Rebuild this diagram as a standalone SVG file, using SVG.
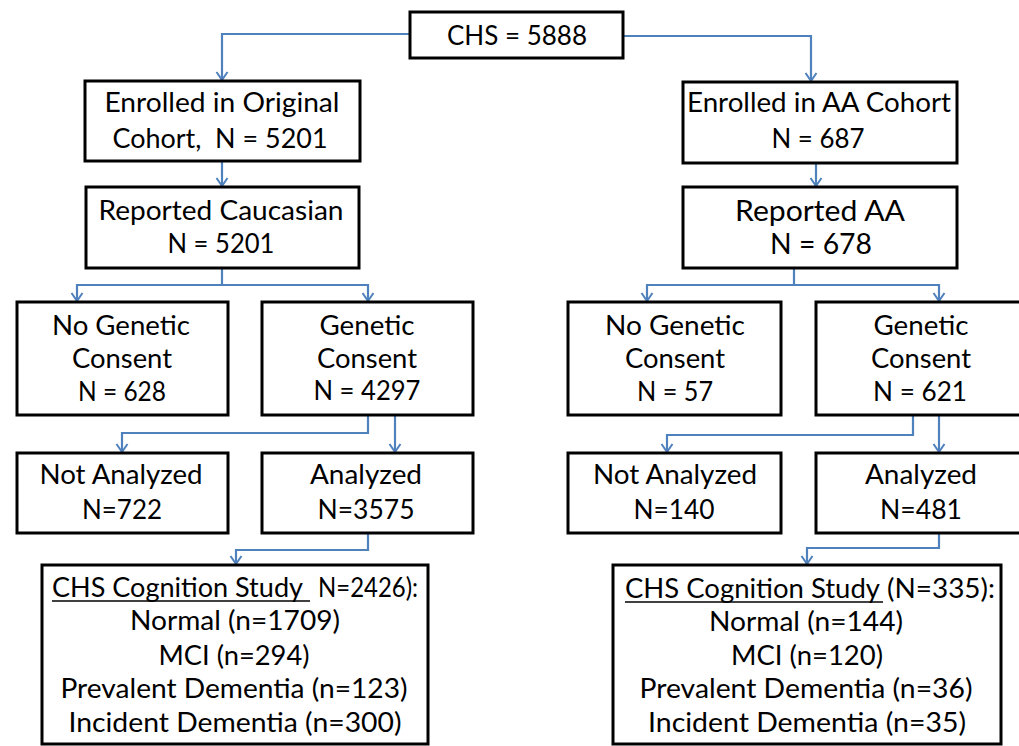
<svg xmlns="http://www.w3.org/2000/svg" width="1019" height="746" viewBox="0 0 1019 746">
<defs>
<style>
.box{fill:#fff;stroke:#000;stroke-width:3}
.t{font-family:Lato,"Liberation Sans",sans-serif;font-size:26px;fill:#000;text-anchor:middle;white-space:pre}
.s{text-anchor:start}
.big{font-size:28px}
.c{fill:none;stroke:#4f81bd;stroke-width:2.2;marker-end:url(#ah)}
.u{stroke:#000;stroke-width:1.5}
</style>
<marker id="ah" markerUnits="userSpaceOnUse" markerWidth="16" markerHeight="16" refX="0" refY="0" viewBox="-10 -8 12 16" orient="auto" overflow="visible">
<path d="M-8,-5.5 L0,0 L-8,5.5" fill="none" stroke="#4f81bd" stroke-width="2"/>
</marker>
</defs>
<rect width="1019" height="746" fill="#fff"/>
<g id="connectors">
<path class="c" d="M410,34 H222 V80"/>
<path class="c" d="M623,36 H811 V81"/>
<path class="c" d="M222,161 V186"/>
<path class="c" d="M816,163 V186"/>
<path class="c" d="M222,268 V285 H77 V301"/>
<path class="c" d="M222,285 H368 V301"/>
<path class="c" d="M794,268 V285 H647 V301"/>
<path class="c" d="M794,285 H939 V301"/>
<path class="c" d="M368,415 V433 H122 V452"/>
<path class="c" d="M395,415 V452"/>
<path class="c" d="M913,415 V435 H667 V452"/>
<path class="c" d="M939,415 V452"/>
<path class="c" d="M368,533 V550 H236 V564"/>
<path class="c" d="M939,533 V548 H807 V564"/>
</g>
<g id="chs">
<rect class="box" x="410" y="12" width="213" height="46"/>
<text class="t" x="517" y="45" textLength="140" lengthAdjust="spacingAndGlyphs">CHS = 5888</text>
</g>
<g id="enrolled-original">
<rect class="box" x="85" y="81" width="275" height="80"/>
<text class="t" x="222" y="112" textLength="235" lengthAdjust="spacingAndGlyphs">Enrolled in Original</text>
<text class="t" x="220" y="148" textLength="215" lengthAdjust="spacingAndGlyphs">Cohort,  N = 5201</text>
</g>
<g id="enrolled-aa">
<rect class="box" x="683" y="82" width="274" height="81"/>
<text class="t" x="819" y="112" textLength="264" lengthAdjust="spacingAndGlyphs">Enrolled in AA Cohort</text>
<text class="t" x="818" y="148" textLength="93" lengthAdjust="spacingAndGlyphs">N = 687</text>
</g>
<g id="reported-caucasian">
<rect class="box" x="86" y="187" width="273" height="81"/>
<text class="t" x="221" y="220" textLength="245" lengthAdjust="spacingAndGlyphs">Reported Caucasian</text>
<text class="t" x="221" y="253" textLength="107" lengthAdjust="spacingAndGlyphs">N = 5201</text>
</g>
<g id="reported-aa">
<rect class="box" x="683" y="187" width="274" height="81"/>
<text class="t big" x="820" y="221" textLength="170" lengthAdjust="spacingAndGlyphs">Reported AA</text>
<text class="t big" x="821" y="254" textLength="102" lengthAdjust="spacingAndGlyphs">N = 678</text>
</g>
<g id="no-consent-left">
<rect class="box" x="17" y="302" width="211" height="113"/>
<text class="t" x="121" y="335" textLength="138" lengthAdjust="spacingAndGlyphs">No Genetic</text>
<text class="t" x="122" y="368" textLength="100" lengthAdjust="spacingAndGlyphs">Consent</text>
<text class="t" x="122" y="401" textLength="88" lengthAdjust="spacingAndGlyphs">N = 628</text>
</g>
<g id="consent-left">
<rect class="box" x="262" y="302" width="211" height="113"/>
<text class="t" x="367" y="335" textLength="95" lengthAdjust="spacingAndGlyphs">Genetic</text>
<text class="t" x="367" y="368" textLength="100" lengthAdjust="spacingAndGlyphs">Consent</text>
<text class="t" x="367" y="400" textLength="107" lengthAdjust="spacingAndGlyphs">N = 4297</text>
</g>
<g id="no-consent-right">
<rect class="box" x="568" y="302" width="213" height="113"/>
<text class="t" x="675" y="335" textLength="140" lengthAdjust="spacingAndGlyphs">No Genetic</text>
<text class="t" x="675" y="368" textLength="100" lengthAdjust="spacingAndGlyphs">Consent</text>
<text class="t" x="675" y="401" textLength="76" lengthAdjust="spacingAndGlyphs">N = 57</text>
</g>
<g id="consent-right">
<rect class="box" x="816" y="302" width="213" height="113"/>
<text class="t" x="921" y="335" textLength="95" lengthAdjust="spacingAndGlyphs">Genetic</text>
<text class="t" x="921" y="368" textLength="100" lengthAdjust="spacingAndGlyphs">Consent</text>
<text class="t" x="920" y="401" textLength="94" lengthAdjust="spacingAndGlyphs">N = 621</text>
</g>
<g id="not-analyzed-left">
<rect class="box" x="17" y="453" width="211" height="80"/>
<text class="t" x="121" y="484" textLength="163" lengthAdjust="spacingAndGlyphs">Not Analyzed</text>
<text class="t" x="122" y="519" textLength="80" lengthAdjust="spacingAndGlyphs">N=722</text>
</g>
<g id="analyzed-left">
<rect class="box" x="262" y="453" width="211" height="80"/>
<text class="t" x="366" y="484" textLength="112" lengthAdjust="spacingAndGlyphs">Analyzed</text>
<text class="t" x="366" y="519" textLength="97" lengthAdjust="spacingAndGlyphs">N=3575</text>
</g>
<g id="not-analyzed-right">
<rect class="box" x="568" y="453" width="213" height="80"/>
<text class="t" x="675" y="484" textLength="164" lengthAdjust="spacingAndGlyphs">Not Analyzed</text>
<text class="t" x="674" y="519" textLength="81" lengthAdjust="spacingAndGlyphs">N=140</text>
</g>
<g id="analyzed-right">
<rect class="box" x="816" y="453" width="213" height="80"/>
<text class="t" x="921" y="484" textLength="112" lengthAdjust="spacingAndGlyphs">Analyzed</text>
<text class="t" x="921" y="519" textLength="82" lengthAdjust="spacingAndGlyphs">N=481</text>
</g>
<g id="cognition-left">
<rect class="box" x="42" y="565" width="386" height="179"/>
<text class="t s" x="52" y="597" textLength="251" lengthAdjust="spacingAndGlyphs">CHS Cognition Study</text>
<line class="u" x1="52" y1="601" x2="310" y2="601"/>
<text class="t s" x="318" y="597" textLength="100" lengthAdjust="spacingAndGlyphs">N=2426):</text>
<text class="t" x="235" y="630" textLength="210" lengthAdjust="spacingAndGlyphs">Normal (n=1709)</text>
<text class="t" x="234" y="665" textLength="151" lengthAdjust="spacingAndGlyphs">MCI (n=294)</text>
<text class="t" x="234" y="698" textLength="347" lengthAdjust="spacingAndGlyphs">Prevalent Dementia (n=123)</text>
<text class="t" x="235" y="732" textLength="333" lengthAdjust="spacingAndGlyphs">Incident Dementia (n=300)</text>
</g>
<g id="cognition-right">
<rect class="box" x="613" y="565" width="388" height="179"/>
<text class="t s" x="625" y="598" textLength="255" lengthAdjust="spacingAndGlyphs">CHS Cognition Study</text>
<line class="u" x1="625" y1="602" x2="883" y2="602"/>
<text class="t s" x="887" y="598" textLength="108" lengthAdjust="spacingAndGlyphs">(N=335):</text>
<text class="t" x="806" y="631" textLength="194" lengthAdjust="spacingAndGlyphs">Normal (n=144)</text>
<text class="t" x="807" y="665" textLength="152" lengthAdjust="spacingAndGlyphs">MCI (n=120)</text>
<text class="t" x="806" y="698" textLength="333" lengthAdjust="spacingAndGlyphs">Prevalent Dementia (n=36)</text>
<text class="t" x="807" y="732" textLength="318" lengthAdjust="spacingAndGlyphs">Incident Dementia (n=35)</text>
</g>
</svg>
